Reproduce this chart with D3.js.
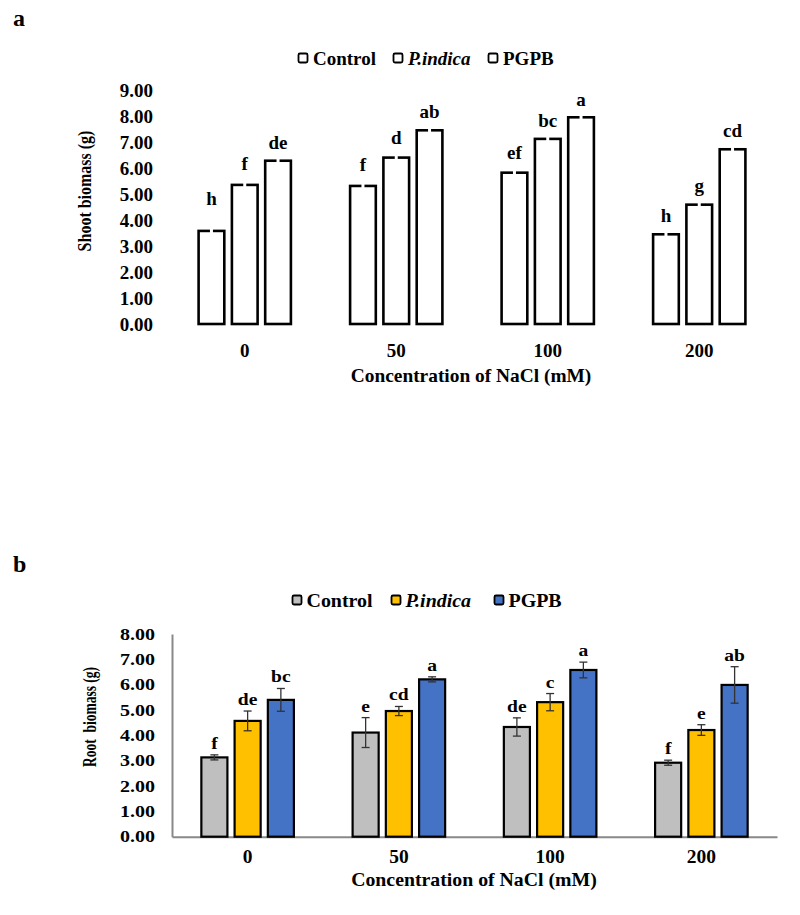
<!DOCTYPE html>
<html><head><meta charset="utf-8">
<script src="https://cdn.jsdelivr.net/npm/d3@7"></script>
<style>
body{margin:0;background:#fff}
svg text{font-family:"Liberation Serif","Times New Roman",serif;font-weight:bold;fill:#000}
</style>
</head><body>
<svg id="c" width="800" height="915"></svg>
<script>
// ---------- data ----------
const categories = ["0", "50", "100", "200"];
const seriesNames = ["Control", "P.indica", "PGPB"];

// Panel a: shoot biomass (g)
const shootControl = [3.58, 5.31, 5.82, 3.45];
const shootPindica = [5.35, 6.40, 7.12, 4.59];
const shootPGPB    = [6.28, 7.45, 7.95, 6.72];
const shootErrControl = [0.73, 0.31, 0.25, 0.22];
const shootErrPindica = [0.31, 0.27, 0.17, 0.20];
const shootErrPGPB    = [0.19, 0.22, 0.17, 0.20];
const shootLetControl = ["h", "f", "ef", "h"];
const shootLetPindica = ["f", "d", "bc", "g"];
const shootLetPGPB    = ["de", "ab", "a", "cd"];
const shootTicks = [0, 1, 2, 3, 4, 5, 6, 7, 8, 9];

// Panel b: root biomass (g)
const rootControl = [3.13, 4.11, 4.33, 2.92];
const rootPindica = [4.57, 4.96, 5.31, 4.21];
const rootPGPB    = [5.40, 6.21, 6.58, 5.99];
const rootErrControl = [0.10, 0.59, 0.36, 0.10];
const rootErrPindica = [0.39, 0.18, 0.34, 0.21];
const rootErrPGPB    = [0.45, 0.10, 0.31, 0.72];
const rootLetControl = ["f", "e", "de", "f"];
const rootLetPindica = ["de", "cd", "c", "e"];
const rootLetPGPB    = ["bc", "a", "a", "ab"];
const rootTicks = [0, 1, 2, 3, 4, 5, 6, 7, 8];

const rootColors = ["#BFBFBF", "#FFC000", "#4472C4"];

function rows(vals, errs, lets) {
  const out = [];
  categories.forEach((c, i) => {
    seriesNames.forEach((s, j) => {
      out.push({cat: c, ser: s, si: j, v: vals[j][i], e: errs[j][i], l: lets[j][i]});
    });
  });
  return out;
}
const shootData = rows([shootControl, shootPindica, shootPGPB],
                       [shootErrControl, shootErrPindica, shootErrPGPB],
                       [shootLetControl, shootLetPindica, shootLetPGPB]);
const rootData = rows([rootControl, rootPindica, rootPGPB],
                      [rootErrControl, rootErrPindica, rootErrPGPB],
                      [rootLetControl, rootLetPindica, rootLetPGPB]);

const svg = d3.select("#c");
const fmt = d3.format(".2f");

// text helper with optional horizontal/vertical stretch
function txt(g, x, y, s, o = {}) {
  const fs = o.fs || 19, sx = o.sx || 1, sy = o.sy || 1, rot = o.rot || 0;
  const t = g.append("text")
    .attr("transform", `translate(${x},${y}) ${rot ? "rotate(" + rot + ")" : ""} scale(${sx},${sy})`)
    .attr("text-anchor", o.anchor || "start")
    .style("font-size", fs + "px")
    .style("white-space", "pre");
  if (o.italic) t.style("font-style", "italic");
  t.text(s);
  return t;
}

function panel(cfg) {
  const g = svg.append("g");
  const x = d3.scaleBand().domain(categories).range([cfg.left, cfg.right]);
  const xi = d3.scaleBand().domain(seriesNames).range([0, x.bandwidth()])
    .paddingInner(0.15).paddingOuter(0.85);
  const y = d3.scaleLinear().domain([0, cfg.ymax]).range([cfg.bottom, cfg.top]);

  // y axis
  const ya = g.append("g").attr("transform", `translate(${cfg.left},0)`)
    .call(d3.axisLeft(y).tickValues(cfg.ticks).tickFormat(fmt).tickSize(0).tickSizeOuter(0).tickPadding(cfg.ypad));
  ya.selectAll("text")
    .style("font-size", cfg.yfs + "px")
    .style("font-family", '"Liberation Serif","Times New Roman",serif')
    .style("font-weight", "bold")
    .attr("x", -cfg.ypad / cfg.ysx)
    .attr("transform", `scale(${cfg.ysx},1)`)
    .attr("fill", "#000");
  if (cfg.axisLines) {
    ya.select(".domain").attr("stroke", "#898989").attr("stroke-width", 2);
  } else ya.select(".domain").remove();

  // x axis
  const xa = g.append("g").attr("transform", `translate(0,${cfg.bottom})`)
    .call(d3.axisBottom(x).tickSize(0).tickSizeOuter(0).tickPadding(cfg.xpad));
  xa.selectAll("text")
    .style("font-size", cfg.xfs + "px")
    .style("font-family", '"Liberation Serif","Times New Roman",serif')
    .style("font-weight", "bold")
    .attr("transform", `scale(${cfg.xsx},1)`)
    .attr("fill", "#000");
  if (cfg.axisLines) {
    xa.select(".domain").attr("stroke", "#898989").attr("stroke-width", 2);
  } else xa.select(".domain").remove();

  // bars
  const sw = cfg.barStroke;
  const bars = g.append("g").selectAll("g").data(cfg.data).join("g")
    .attr("transform", d => `translate(${x(d.cat) + xi(d.ser)},0)`);
  bars.append("rect")
    .attr("x", sw / 2)
    .attr("width", xi.bandwidth() - sw)
    .attr("y", d => y(d.v))
    .attr("height", d => y(0) - y(d.v))
    .attr("fill", d => cfg.colors ? cfg.colors[d.si] : "#fff")
    .attr("stroke", "#000")
    .attr("stroke-width", sw);

  // error bars
  const cx = xi.bandwidth() / 2;
  bars.append("line")
    .attr("x1", cx).attr("x2", cx)
    .attr("y1", d => y(d.v + d.e)).attr("y2", d => y(d.v - d.e))
    .attr("stroke", cfg.errColor).attr("stroke-width", cfg.errWidth);
  if (cfg.caps) {
    bars.append("line").attr("x1", cx - 4).attr("x2", cx + 4)
      .attr("y1", d => y(d.v + d.e)).attr("y2", d => y(d.v + d.e))
      .attr("stroke", cfg.errColor).attr("stroke-width", 1.3);
    bars.append("line").attr("x1", cx - 4).attr("x2", cx + 4)
      .attr("y1", d => y(d.v - d.e)).attr("y2", d => y(d.v - d.e))
      .attr("stroke", cfg.errColor).attr("stroke-width", 1.3);
  }

  // letters
  bars.each(function (d) {
    txt(d3.select(this), cx, y(d.v + d.e) - cfg.letOff, d.l,
        {fs: cfg.letFs, sx: cfg.letSx, anchor: "middle"});
  });

  // y title
  txt(g, cfg.ytX, cfg.ytY, cfg.ytitle, {fs: cfg.ytFs, rot: -90, sy: cfg.ytSy, anchor: "middle"});
  // x title
  txt(g, cfg.xtX, cfg.xtY, "Concentration of NaCl (mM)", {fs: cfg.xtFs, sx: cfg.xtSx, anchor: "middle"});

  // legend
  const lg = g.append("g");
  seriesNames.forEach((s, j) => {
    const bx = cfg.legX[j];
    lg.append("rect").attr("x", bx).attr("y", cfg.legY - 4.5).attr("width", 9).attr("height", 9)
      .attr("rx", 1.5)
      .attr("fill", cfg.colors ? cfg.colors[j] : "#fff")
      .attr("stroke", "#000").attr("stroke-width", 1.8);
    txt(lg, bx + cfg.legGap, cfg.legY + 6.5, s, {fs: cfg.legFs, sx: cfg.legSx, italic: s === "P.indica"});
  });

  // panel letter
  txt(g, 13, cfg.panelY, cfg.panel, {fs: 24});
}

panel({
  data: shootData, panel: "a", panelY: 26,
  left: 169, right: 775, top: 90, bottom: 324, ymax: 9, ticks: shootTicks,
  ypad: 16, yfs: 19, ysx: 1, xpad: 20, xfs: 19, xsx: 1, axisLines: false,
  barStroke: 2.6, colors: null, errColor: "#fff", errWidth: 3, caps: false,
  letOff: 7, letFs: 19, letSx: 1,
  ytitle: "Shoot biomass (g)", ytX: 91, ytY: 191, ytFs: 16, ytSy: 1.12,
  xtX: 471, xtY: 382, xtFs: 19, xtSx: 1.02,
  legX: [298.5, 393.5, 488.5], legY: 58, legGap: 14.5, legFs: 19, legSx: 1
});

panel({
  data: rootData, panel: "b", panelY: 572,
  left: 172, right: 777, top: 634, bottom: 836.7, ymax: 8, ticks: rootTicks,
  ypad: 17, yfs: 16, ysx: 1.25, xpad: 13.5, xfs: 18, xsx: 1.08, axisLines: true,
  barStroke: 2.2, colors: rootColors, errColor: "#333", errWidth: 1.3, caps: true,
  letOff: 6, letFs: 17, letSx: 1.15,
  ytitle: "Root  biomass (g)", ytX: 96, ytY: 717, ytFs: 13.5, ytSy: 1.45,
  xtX: 474, xtY: 886, xtFs: 18, xtSx: 1.1,
  legX: [292.5, 391.5, 494.5], legY: 600, legGap: 14, legFs: 19, legSx: 1.05
});
</script>
</body></html>
